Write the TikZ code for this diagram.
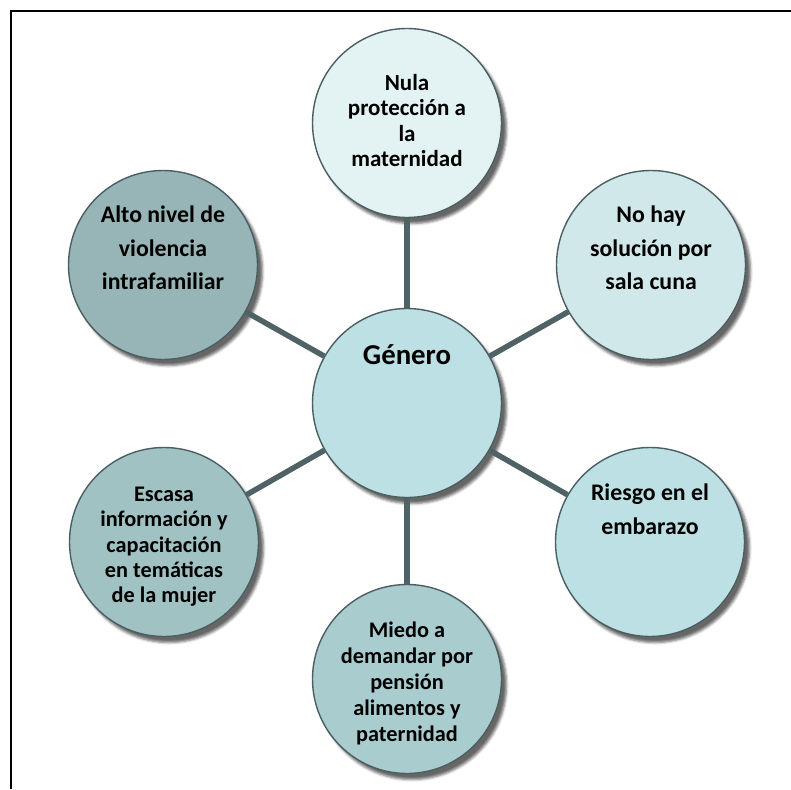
\documentclass[tikz,border=0pt]{standalone}
\usepackage{fontspec}
\setmainfont{Carlito}
\usetikzlibrary{shadows.blur}
\definecolor{rimcol}{HTML}{4B5E61}
\definecolor{linkcol}{HTML}{4F6366}
\definecolor{fillA}{HTML}{E3F2F3}
\definecolor{fillB}{HTML}{D0E8EA}
\definecolor{fillC}{HTML}{BCE0E3}
\definecolor{fillD}{HTML}{A9CCCE}
\definecolor{fillE}{HTML}{A1C2C3}
\definecolor{fillF}{HTML}{97B5B6}
\begin{document}
\begin{tikzpicture}[x=1pt,y=-1pt,
  bubble/.style={circle,draw=rimcol,line width=1.4pt,minimum size=189pt,inner sep=0pt,
    blur shadow={shadow xshift=5pt,shadow yshift=-6pt,shadow blur steps=4,shadow blur radius=2.5pt,shadow opacity=60}},
  link/.style={draw=linkcol,line width=5.5pt},
  caption/.style={anchor=north,align=center,inner sep=0pt,text=black},
  small/.style={font={\fontsize{23}{25.5}\selectfont\bfseries}},
  mid/.style={font={\fontsize{23.8}{33.5}\selectfont\bfseries}},
  denseA/.style={font={\fontsize{22.3}{25.3}\selectfont\bfseries}},
  denseB/.style={font={\fontsize{22.3}{26}\selectfont\bfseries}},
  big/.style={font={\fontsize{28.8}{34}\selectfont\bfseries}}]
  \useasboundingbox (0,0) rectangle (791,789);
  % frame
  \draw[line width=1.8pt,black] (11,789) -- (11,11) -- (791,11);

  % circles
  \node[bubble,fill=fillC] (c)  at (407,403) {};
  \node[bubble,fill=fillA] (n1) at (407,123) {};
  \node[bubble,fill=fillB] (n2) at (651,265) {};
  \node[bubble,fill=fillC] (n3) at (650,542) {};
  \node[bubble,fill=fillD] (n4) at (407,679) {};
  \node[bubble,fill=fillE] (n5) at (164,542) {};
  \node[bubble,fill=fillF] (n6) at (163,265) {};

  % spokes
  \foreach \s in {n1,n2,n3,n4,n5,n6} \draw[link] (c) -- (\s);

  % captions
  \node[caption,big]    (t0) at (407,344) {Género};
  \node[caption,small]  (t1) at (407,74)  {Nula\\protección a\\la\\maternidad};
  \node[caption,mid]    (t2) at (651,206) {No hay\\solución por\\sala cuna};
  \node[caption,mid]    (t3) at (650,484) {Riesgo en el\\embarazo};
  \node[caption,denseB] (t4) at (407,622) {Miedo a\\demandar por\\pensión\\alimentos y\\paternidad};
  \node[caption,denseA] (t5) at (164,487) {Escasa\\información y\\capacitación\\en temáticas\\de la mujer};
  \node[caption,mid]    (t6) at (163,206) {Alto nivel de\\violencia\\intrafamiliar};
\end{tikzpicture}
\end{document}
